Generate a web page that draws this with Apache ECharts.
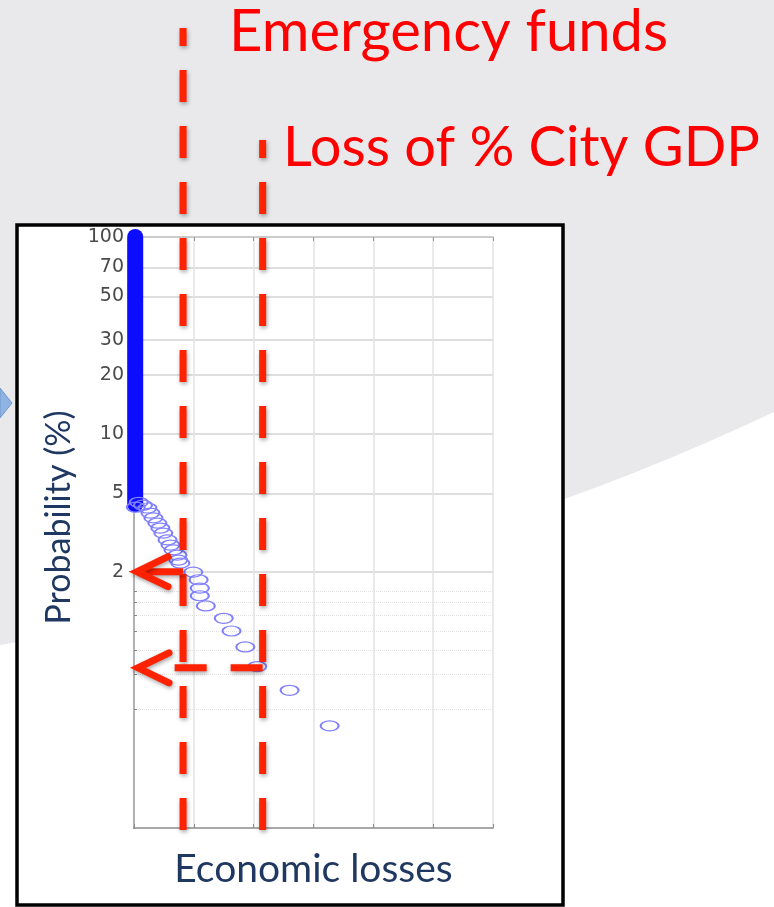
<!DOCTYPE html>
<html>
<head>
<meta charset="utf-8">
<script src="https://cdn.jsdelivr.net/npm/echarts@6/dist/echarts.min.js"></script>
<style>
html,body{margin:0;padding:0;background:#e9e9eb;}
#main{width:774px;height:907px;}
</style>
</head>
<body>
<div id="main"></div>
<script>
// dense part of the curve (many overlapping circles at near-zero loss)
var denseLoss = [0.02, 0.02];
var denseProb = [100, 4.4];

// individual events
var lossValues = [0.03, 0.08, 0.15, 0.225, 0.275, 0.325, 0.39, 0.44, 0.49, 0.56, 0.61, 0.66, 0.725, 0.74, 0.775, 0.99, 1.08, 1.1, 1.1, 1.2, 1.5, 1.63, 1.86, 2.06, 2.6, 3.27];
var probValues = [4.25, 4.5, 4.35, 4.21, 3.97, 3.75, 3.53, 3.33, 3.14, 2.9, 2.73, 2.58, 2.43, 2.29, 2.21, 1.99, 1.82, 1.65, 1.51, 1.34, 1.16, 1.0, 0.83, 0.66, 0.5, 0.33];

var majorTicks = [2, 5, 10, 20, 30, 50, 70, 100];
var minorTicks = [0.4, 0.6, 0.8, 1, 1.2, 1.4, 1.6];

// thresholds drawn as red annotations
var emergencyFunds = 0.82;
var cityGdpLoss = 2.15;
var emergencyProb = 2;
var cityGdpProb = 0.65;

var navy = '#1f3862';
var red = '#ff2200';
var font = 'Lato, "Open Sans", sans-serif';

var chart = echarts.init(document.getElementById('main'));

// white swoosh in the background
var swoosh = [];
for (var t = 0; t <= 1.0001; t += 0.05) {
	var a = (1 - t) * (1 - t), b = 2 * t * (1 - t), c = t * t;
	swoosh.push([b * 440 + c * 774, a * 645 + b * 570 + c * 412]);
}
swoosh.push([774, 907], [0, 907]);

var background = [
	{type: 'polygon', z: -20, silent: true, shape: {points: swoosh}, style: {fill: '#ffffff'}},
	{type: 'polygon', z: -20, silent: true, shape: {points: [[0, 388], [12, 403], [0, 418]]}, style: {fill: '#8fb4e3', stroke: '#6f97cc', lineWidth: 1}},
	{type: 'rect', z: -10, silent: true, shape: {x: 17, y: 225, width: 546, height: 680}, style: {fill: '#ffffff', stroke: '#000000', lineWidth: 3.5}}
];

var option = {
	backgroundColor: '#e9e9eb',
	animation: false,
	grid: {left: 134, top: 237, width: 359, height: 591},
	xAxis: [
		{
			type: 'value', min: 0, max: 6, interval: 1, position: 'bottom',
			name: 'Economic losses', nameLocation: 'middle', nameGap: 22,
			nameTextStyle: {color: navy, fontSize: 39, fontFamily: font},
			axisLine: {show: true, lineStyle: {color: '#8c8c8c', width: 1.5}},
			axisTick: {show: true, inside: true, length: 4, lineStyle: {color: '#8c8c8c'}},
			axisLabel: {show: false},
			splitLine: {show: true, lineStyle: {color: '#e3e3e3', width: 1.5}}
		},
		{
			type: 'value', min: 0, max: 6, interval: 1, position: 'top',
			axisLine: {show: true, lineStyle: {color: '#c6c6c6', width: 1.5}},
			axisTick: {show: true, inside: true, length: 4, lineStyle: {color: '#9a9a9a'}},
			axisLabel: {show: false},
			splitLine: {show: false}
		}
	],
	yAxis: [
		{
			type: 'log', logBase: 10, min: 0.1, max: 100, position: 'left',
			name: 'Probability (%)', nameLocation: 'middle', nameGap: 58, nameRotate: 90,
			nameTextStyle: {color: navy, fontSize: 34, fontFamily: font, padding: [0, 0, 0, 30]},
			axisLine: {show: true, lineStyle: {color: '#777777', width: 2}},
			axisTick: {show: true, inside: true, length: 5, customValues: majorTicks, lineStyle: {color: '#777'}},
			axisLabel: {customValues: majorTicks, color: '#4a4a4a', fontSize: 19, fontFamily: '"DejaVu Sans"', margin: 10},
			splitLine: {show: true, lineStyle: {color: '#d4d4d4', width: 1.5}}
		},
		{
			type: 'log', logBase: 10, min: 0.1, max: 100, position: 'right',
			axisLine: {show: true, lineStyle: {color: '#c6c6c6', width: 1.5}},
			axisTick: {show: true, inside: true, length: 5, customValues: majorTicks, lineStyle: {color: '#9a9a9a'}},
			axisLabel: {show: false},
			splitLine: {show: false}
		},
		{
			type: 'log', logBase: 10, min: 0.1, max: 100, position: 'left',
			axisLine: {show: false},
			axisTick: {show: true, inside: true, length: 3, customValues: minorTicks, lineStyle: {color: '#888'}},
			axisLabel: {show: false},
			splitLine: {show: true, lineStyle: {color: '#e2e2e2', type: 'dotted', width: 1}}
		}
	],
	graphic: background,
	series: [
		{
			type: 'line',
			data: denseLoss.map(function (x, i) { return [x, denseProb[i]]; }),
			symbol: 'none',
			lineStyle: {color: '#0c0cff', width: 16, cap: 'round'},
			z: 3
		},
		{
			type: 'scatter',
			data: lossValues.map(function (x, i) { return [x, probValues[i]]; }),
			symbol: 'circle',
			symbolSize: [18, 10],
			itemStyle: {color: 'rgba(0,0,0,0)', borderColor: '#8080ff', borderWidth: 1.6, opacity: 1},
			z: 4
		}
	]
};
chart.setOption(option);

// red annotations, placed through the chart's own scales
function px(x, y) {
	return chart.convertToPixel({seriesIndex: 1}, [x, y]);
}
var shadow = {shadowBlur: 4, shadowColor: 'rgba(0,0,0,0.35)', shadowOffsetX: 1, shadowOffsetY: 2};
function dashStyle(extra) {
	var s = {stroke: red, lineWidth: 7, lineDash: [32, 24], lineDashOffset: 14};
	for (var k in shadow) s[k] = shadow[k];
	for (var e in extra) s[e] = extra[e];
	return s;
}

var bottomY = px(0, 0.1)[1] + 2;
var axisX = px(0, 1)[0];
var xEm = px(emergencyFunds, 1)[0];
var xGdp = px(cityGdpLoss, 1)[0];
var yEm = px(0, emergencyProb)[1];
var yGdp = px(0, cityGdpProb)[1];

function chevron(tipX, y) {
	return {
		type: 'polyline', z: 100, silent: true,
		shape: {points: [[tipX + 31, y - 15], [tipX, y], [tipX + 31, y + 15]]},
		style: Object.assign({stroke: red, lineWidth: 7, lineCap: 'round', lineJoin: 'miter', fill: null}, shadow)
	};
}

var overlay = [
	{type: 'line', z: 100, silent: true, shape: {x1: xEm, y1: 28, x2: xEm, y2: bottomY}, style: dashStyle({})},
	{type: 'line', z: 100, silent: true, shape: {x1: xGdp, y1: 140, x2: xGdp, y2: bottomY}, style: dashStyle({})},
	{type: 'line', z: 100, silent: true, shape: {x1: xGdp, y1: yGdp, x2: axisX + 38, y2: yGdp}, style: dashStyle({lineDashOffset: 0})},
	{type: 'line', z: 100, silent: true, shape: {x1: axisX + 4, y1: yEm, x2: xEm, y2: yEm}, style: Object.assign({stroke: red, lineWidth: 7}, shadow)},
	chevron(axisX + 3, yEm),
	chevron(axisX + 4, yGdp),
	{type: 'text', z: 100, silent: true, x: 229, y: 32, style: {text: 'Emergency funds', fill: '#ff0000', fontSize: 58, fontFamily: font, align: 'left', verticalAlign: 'middle'}},
	{type: 'text', z: 100, silent: true, x: 283, y: 148, style: {text: 'Loss of % City GDP', fill: '#ff0000', fontSize: 56, fontFamily: font, align: 'left', verticalAlign: 'middle'}}
];

chart.setOption({graphic: background.concat(overlay)});
</script>
</body>
</html>
